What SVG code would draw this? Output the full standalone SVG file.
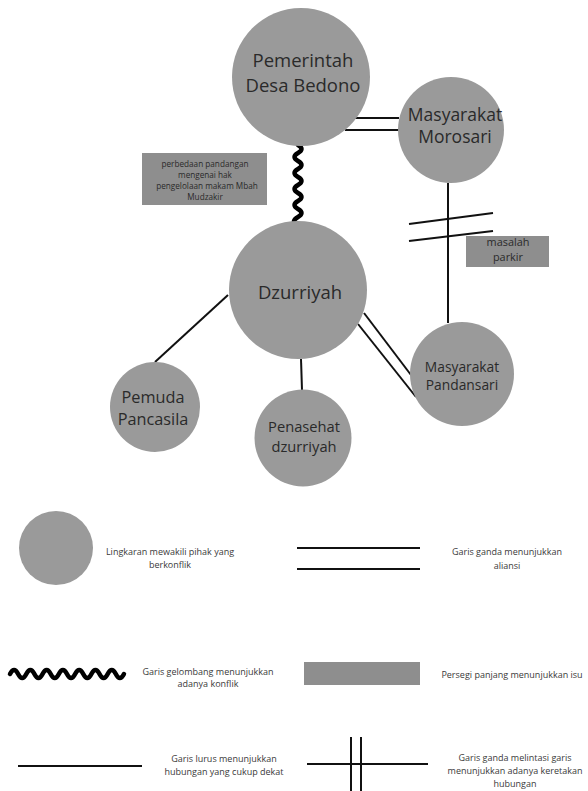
<svg xmlns="http://www.w3.org/2000/svg" width="588" height="791" viewBox="0 0 588 791">
<style>
.node{fill:#9a9a9a}
.box{fill:#8e8e8e}
.t{font-family:"Open Sans","Liberation Sans",sans-serif;fill:#2a2a2a;text-anchor:middle}
.lg{font-family:"Open Sans","Liberation Sans",sans-serif;fill:#3a3a3a;text-anchor:middle;font-size:9px}
.ln{stroke:#111;stroke-width:2;fill:none}
.wave{stroke:#000;stroke-width:4.5;fill:none;stroke-linecap:round}
</style>
<rect width="588" height="791" fill="#fff"/>
<g id="connectors">
<path class="wave" d="M298 145 q7 4 0 8 t0 8 t0 8 t0 8 t0 8 t0 8 t0 8 t0 8 t0 8 t-2 8"/>
<line class="ln" x1="352" y1="118" x2="399" y2="118"/>
<line class="ln" x1="345" y1="130" x2="399" y2="130"/>
<line class="ln" x1="448" y1="183" x2="448" y2="323"/>
<line class="ln" x1="409" y1="224" x2="493" y2="213"/>
<line class="ln" x1="409" y1="241" x2="493" y2="231"/>
<line class="ln" x1="228" y1="295" x2="155" y2="362"/>
<line class="ln" x1="301" y1="359" x2="302" y2="390"/>
<line class="ln" x1="364" y1="313" x2="411" y2="375"/>
<line class="ln" x1="358" y1="324" x2="416" y2="397"/>
</g>
<g id="issue-makam">
<rect class="box" x="142" y="153" width="125" height="52"/>
<text class="t" font-size="8.2" x="205" y="166.5">perbedaan pandangan</text>
<text class="t" font-size="8.2" x="205" y="177.5">mengenai hak</text>
<text class="t" font-size="8.2" x="207" y="188.5">pengelolaan makam Mbah</text>
<text class="t" font-size="8.2" x="205" y="199.5">Mudzakir</text>
</g>
<g id="issue-parkir">
<rect class="box" x="466" y="236" width="83" height="31"/>
<text class="t" font-size="10.9" x="508" y="246">masalah</text>
<text class="t" font-size="10.9" x="508" y="261">parkir</text>
</g>
<g id="node-pemerintah">
<circle class="node" cx="301" cy="77" r="69"/>
<text class="t" font-size="18.5" x="303" y="67">Pemerintah</text>
<text class="t" font-size="18.5" x="303" y="92">Desa Bedono</text>
</g>
<g id="node-morosari">
<circle class="node" cx="451" cy="130" r="53"/>
<text class="t" font-size="17.5" x="455" y="121">Masyarakat</text>
<text class="t" font-size="17.5" x="455" y="143">Morosari</text>
</g>
<g id="node-dzurriyah">
<circle class="node" cx="298" cy="290" r="69"/>
<text class="t" font-size="18.5" x="300" y="299">Dzurriyah</text>
</g>
<g id="node-pemuda">
<circle class="node" cx="155" cy="407" r="45"/>
<text class="t" font-size="16.3" x="153" y="403">Pemuda</text>
<text class="t" font-size="16.3" x="153" y="425">Pancasila</text>
</g>
<g id="node-penasehat">
<circle class="node" cx="303" cy="438" r="48.5"/>
<text class="t" font-size="14.7" x="304" y="432">Penasehat</text>
<text class="t" font-size="14.7" x="304" y="452">dzurriyah</text>
</g>
<g id="node-pandansari">
<circle class="node" cx="462" cy="374" r="52"/>
<text class="t" font-size="13.8" x="462" y="372">Masyarakat</text>
<text class="t" font-size="13.8" x="462" y="390">Pandansari</text>
</g>
<g id="legend">
<circle class="node" cx="56" cy="548" r="37"/>
<text class="lg" x="170" y="555">Lingkaran mewakili pihak yang</text>
<text class="lg" x="170" y="568">berkonflik</text>
<line class="ln" stroke-width="1.6" x1="297" y1="548" x2="420" y2="548"/>
<line class="ln" stroke-width="1.6" x1="297" y1="569" x2="420" y2="569"/>
<text class="lg" x="507" y="555">Garis ganda menunjukkan</text>
<text class="lg" x="507" y="569">aliansi</text>
<path class="wave" d="M10 674 q4.07 -8 8.14 0 t8.14 0 t8.14 0 t8.14 0 t8.14 0 t8.14 0 t8.14 0 t8.14 0 t8.14 0 t8.14 0 t8.14 0 t8.14 0 t8.14 0 t8.14 0"/>
<text class="lg" x="208" y="675">Garis gelombang menunjukkan</text>
<text class="lg" x="208" y="687">adanya konflik</text>
<rect class="box" x="304" y="662" width="116" height="23"/>
<text class="lg" x="512" y="678">Persegi panjang menunjukkan isu</text>
<line class="ln" stroke-width="1.6" x1="18" y1="766" x2="142" y2="766"/>
<text class="lg" x="224" y="762">Garis lurus menunjukkan</text>
<text class="lg" x="224" y="775">hubungan yang cukup dekat</text>
<line class="ln" stroke-width="1.6" x1="307" y1="764" x2="428" y2="764"/>
<line class="ln" stroke-width="1.6" x1="351" y1="737" x2="351" y2="791"/>
<line class="ln" stroke-width="1.6" x1="361" y1="737" x2="361" y2="791"/>
<text class="lg" x="515" y="761">Garis ganda melintasi garis</text>
<text class="lg" x="515" y="774">menunjukkan adanya keretakan</text>
<text class="lg" x="515" y="787">hubungan</text>
</g>
</svg>
